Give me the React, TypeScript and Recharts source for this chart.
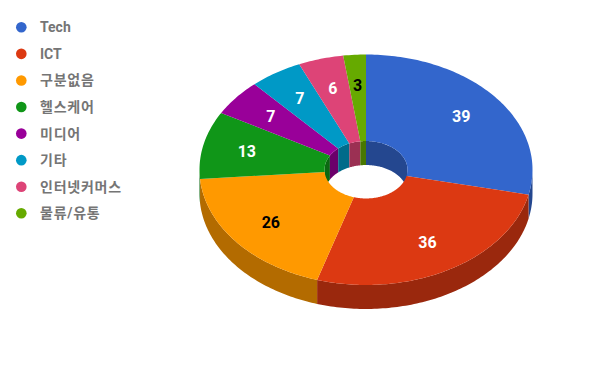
import React from 'react';
import { PieChart, Pie, Cell, Legend } from 'recharts';

const categories = ['Tech', 'ICT', '구분없음', '헬스케어', '미디어', '기타', '인터넷커머스', '물류/유통'];
const values = [39, 36, 26, 13, 7, 7, 6, 3];
const topColors = ['#3366cc', '#dc3912', '#ff9900', '#109618', '#990099', '#0099c6', '#dd4477', '#66aa00'];
const sideColors = ['#24478f', '#9a280d', '#b36b00', '#0b6911', '#6b006b', '#006b8a', '#9b3053', '#477700'];
const labelColors = ['#ffffff', '#ffffff', '#000000', '#ffffff', '#ffffff', '#ffffff', '#ffffff', '#000000'];

const data = categories.map((name, i) => ({ name, value: values[i] }));

const KY = 0.692;
const DEPTH = 24;
const FONT = "Roboto, 'Noto Sans CJK KR', sans-serif";

function pt(cx: number, cy: number, r: number, a: number, dy = 0): [number, number] {
  const rad = (a * Math.PI) / 180;
  return [cx + r * Math.cos(rad), cy - r * KY * Math.sin(rad) + dy];
}

function arcPts(cx: number, cy: number, r: number, a1: number, a2: number, dy = 0) {
  const n = Math.max(2, Math.ceil(Math.abs(a2 - a1)));
  const out: [number, number][] = [];
  for (let i = 0; i <= n; i++) out.push(pt(cx, cy, r, a1 + ((a2 - a1) * i) / n, dy));
  return out;
}

function toPath(pts: [number, number][]) {
  return 'M' + pts.map((p) => p[0].toFixed(2) + ',' + p[1].toFixed(2)).join('L') + 'Z';
}

function intersect(lo: number, hi: number, a: number, b: number): [number, number] | null {
  const s = Math.max(lo, a);
  const e = Math.min(hi, b);
  return e > s ? [s, e] : null;
}

const TopShape = (props: any) => {
  const { cx, cy, innerRadius, outerRadius, startAngle, endAngle, fill } = props;
  const lo = Math.min(startAngle, endAngle);
  const hi = Math.max(startAngle, endAngle);
  const pts = arcPts(cx, cy, outerRadius, lo, hi).concat(arcPts(cx, cy, innerRadius, hi, lo));
  return <path d={toPath(pts)} fill={fill} stroke="none" />;
};

const SideShape = (props: any) => {
  const { cx, cy, innerRadius, outerRadius, startAngle, endAngle, fill } = props;
  const lo = Math.min(startAngle, endAngle);
  const hi = Math.max(startAngle, endAngle);
  const paths: string[] = [];
  const front = intersect(lo, hi, -180, 0);
  if (front) {
    const [s, e] = front;
    paths.push(toPath(arcPts(cx, cy, outerRadius, s, e).concat(arcPts(cx, cy, outerRadius, e, s, DEPTH))));
  }
  const backs: [number, number][] = [[-270, -180], [0, 90]];
  backs.forEach(([a, b]) => {
    const iv = intersect(lo, hi, a, b);
    if (iv) {
      const [s, e] = iv;
      paths.push(toPath(arcPts(cx, cy, innerRadius, s, e).concat(arcPts(cx, cy, innerRadius, e, s, DEPTH))));
    }
  });
  return (
    <g>
      {paths.map((d, i) => (
        <path key={i} d={d} fill={fill} stroke="none" />
      ))}
    </g>
  );
};

const renderLabel = (props: any) => {
  const { cx, cy, outerRadius, startAngle, endAngle, index, value } = props;
  const mid = (startAngle + endAngle) / 2;
  const [x, y] = pt(cx, cy, outerRadius * 0.733, mid);
  return (
    <text
      x={x}
      y={y}
      fill={labelColors[index]}
      textAnchor="middle"
      dominantBaseline="central"
      fontSize={16}
      fontWeight="bold"
      fontFamily={FONT}
    >
      {value}
    </text>
  );
};

const LegendContent = () => (
  <svg width={200} height={230} style={{ display: 'block' }}>
    {categories.map((name, i) => {
      const y = 27.3 + i * 26.57;
      const korean = /[가-힣]/.test(name);
      return (
        <g key={name}>
          <circle cx={21.3} cy={y} r={5.3} fill={topColors[i]} />
          <text
            x={40}
            y={y + 5}
            fontSize={14}
            fontWeight="bold"
            fill="#757575"
            fontFamily={FONT}
            letterSpacing={korean ? 0.75 : 0}
          >
            {name}
          </text>
        </g>
      );
    })}
  </svg>
);

export default function App() {
  return (
    <div style={{ position: 'absolute', left: 0, top: 0, width: 600, height: 371, background: '#ffffff' }}>
      <PieChart width={600} height={371} margin={{ top: 0, right: 0, bottom: 0, left: 0 }}>
        <Pie
          data={data}
          dataKey="value"
          nameKey="name"
          cx={366}
          cy={169.75}
          outerRadius={166.5}
          innerRadius={41.5}
          startAngle={90}
          endAngle={-270}
          stroke="none"
          isAnimationActive={false}
          shape={SideShape}
          legendType="none"
        >
          {data.map((d, i) => (
            <Cell key={d.name} fill={sideColors[i]} />
          ))}
        </Pie>
        <Pie
          data={data}
          dataKey="value"
          nameKey="name"
          cx={366}
          cy={169.75}
          outerRadius={166.5}
          innerRadius={41.5}
          startAngle={90}
          endAngle={-270}
          stroke="none"
          isAnimationActive={false}
          shape={TopShape}
          label={renderLabel}
          labelLine={false}
        >
          {data.map((d, i) => (
            <Cell key={d.name} fill={topColors[i]} />
          ))}
        </Pie>
        <Legend
          layout="vertical"
          align="center"
          verticalAlign="middle"
          wrapperStyle={{ left: 0, top: 0, width: 200, height: 230 }}
          content={LegendContent}
        />
      </PieChart>
    </div>
  );
}
